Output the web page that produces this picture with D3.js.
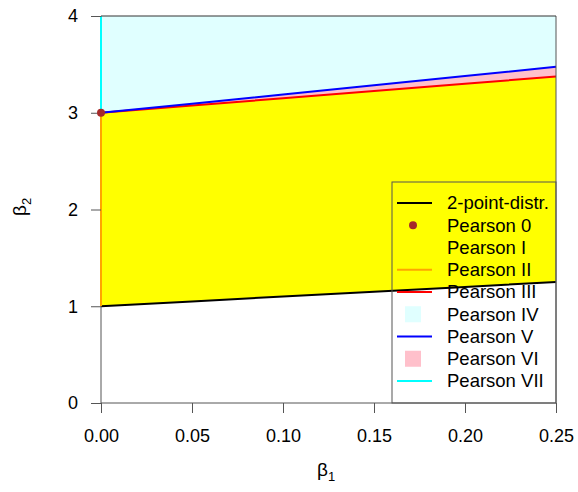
<!DOCTYPE html>
<html>
<head>
<meta charset="utf-8">
<script src="https://cdn.jsdelivr.net/npm/d3@7"></script>
<style>
  body { margin: 0; background: #fff; }
  text { font-family: "Liberation Sans", Arial, sans-serif; }
</style>
</head>
<body>
<div id="chart"></div>
<script>
// beta1 grid and boundary curves
const beta1 = [0, 0.05, 0.10, 0.15, 0.20, 0.25];
const twoPoint = [1.00, 1.05, 1.10, 1.15, 1.20, 1.25];      // lower bound
const typeIII = [3.00, 3.075, 3.15, 3.225, 3.30, 3.375];     // red line
const typeV = [3.00, 3.094, 3.189, 3.283, 3.379, 3.475];     // blue line
const yTop = 4;
const xTicks = [0, 0.05, 0.10, 0.15, 0.20, 0.25];
const yTicks = [0, 1, 2, 3, 4];

const legendNames = ['2-point-distr.', 'Pearson 0', 'Pearson I', 'Pearson II', 'Pearson III',
  'Pearson IV', 'Pearson V', 'Pearson VI', 'Pearson VII'];

const W = 578, H = 492;
const pLeft = 101, pRight = 556, pTop = 16, pBottom = 403;

const x = d3.scaleLinear().domain([0, 0.25]).range([pLeft, pRight]);
const y = d3.scaleLinear().domain([0, 4]).range([pBottom, pTop]);

const svg = d3.select('#chart').append('svg')
  .attr('width', W).attr('height', H);

const pts = (arr) => beta1.map((b, i) => [b, arr[i]]);

// band between two curves
const band = d3.area()
  .x(d => x(d[0]))
  .y0(d => y(d[1]))
  .y1(d => y(d[2]));
const line = d3.line().x(d => x(d[0])).y(d => y(d[1]));

// Pearson I (yellow)
svg.append('path')
  .datum(beta1.map((b, i) => [b, twoPoint[i], typeIII[i]]))
  .attr('d', band).attr('fill', '#ffff00');
// Pearson VI (pink)
svg.append('path')
  .datum(beta1.map((b, i) => [b, typeIII[i], typeV[i]]))
  .attr('d', band).attr('fill', '#ffc0cb');
// Pearson IV (light cyan)
svg.append('path')
  .datum(beta1.map((b, i) => [b, typeV[i], yTop]))
  .attr('d', band).attr('fill', '#e0ffff');

// boundary lines
svg.append('path').datum(pts(twoPoint)).attr('d', line)
  .attr('fill', 'none').attr('stroke', '#000').attr('stroke-width', 2);
svg.append('path').datum(pts(typeIII)).attr('d', line)
  .attr('fill', 'none').attr('stroke', '#ff0000').attr('stroke-width', 2);
svg.append('path').datum(pts(typeV)).attr('d', line)
  .attr('fill', 'none').attr('stroke', '#0000ff').attr('stroke-width', 2);

// Pearson II: orange vertical at beta1 = 0
svg.append('line')
  .attr('x1', x(0)).attr('x2', x(0))
  .attr('y1', y(twoPoint[0])).attr('y2', y(typeIII[0]))
  .attr('stroke', '#ffa500').attr('stroke-width', 2);
// Pearson VII: cyan vertical
svg.append('line')
  .attr('x1', x(0)).attr('x2', x(0))
  .attr('y1', y(typeIII[0])).attr('y2', y(yTop))
  .attr('stroke', '#00ffff').attr('stroke-width', 2);

// axes
const axisColor = '#555';
const xAxis = svg.append('g')
  .attr('transform', `translate(0,${pBottom})`)
  .call(d3.axisBottom(x).tickValues(xTicks).tickFormat(d3.format('.2f')).tickSize(10).tickPadding(16));
const yAxis = svg.append('g')
  .attr('transform', `translate(${pLeft},0)`)
  .call(d3.axisLeft(y).tickValues(yTicks).tickFormat(d3.format('d')).tickSize(10).tickPadding(13));
[xAxis, yAxis].forEach(g => {
  g.select('.domain').remove();
  g.selectAll('line').attr('stroke', axisColor);
  g.selectAll('text').attr('font-size', 18).attr('fill', '#000')
    .style('font-family', '"Liberation Sans", Arial, sans-serif');
});
xAxis.selectAll('text').attr('dy', '0.71em');

// frame
svg.append('line').attr('x1', pLeft).attr('x2', pRight).attr('y1', pBottom).attr('y2', pBottom)
  .attr('stroke', axisColor);
svg.append('line').attr('x1', pLeft).attr('x2', pLeft).attr('y1', y(twoPoint[0])).attr('y2', pBottom)
  .attr('stroke', axisColor);
svg.append('line').attr('x1', pRight).attr('x2', pRight).attr('y1', pTop).attr('y2', pBottom)
  .attr('stroke', axisColor);
svg.append('line').attr('x1', pLeft).attr('x2', pRight).attr('y1', pTop).attr('y2', pTop)
  .attr('stroke', '#333');

// Pearson 0 (normal) point
svg.append('circle')
  .attr('cx', x(0)).attr('cy', y(3)).attr('r', 4)
  .attr('fill', '#a52a2a');

// axis titles
const xt = svg.append('text').attr('x', 317).attr('y', 476).attr('font-size', 19);
xt.append('tspan').text('β');
xt.append('tspan').attr('font-size', 13).attr('dy', 5).text('1');

const yt = svg.append('text')
  .attr('transform', 'translate(26,216) rotate(-90)')
  .attr('font-size', 19);
yt.append('tspan').text('β');
yt.append('tspan').attr('font-size', 13).attr('dy', 5).text('2');

// legend
const lg = svg.append('g');
lg.append('rect')
  .attr('x', 392).attr('y', 182).attr('width', pRight - 392).attr('height', pBottom - 182)
  .attr('fill', 'none').attr('stroke', axisColor);

const rowY = i => 203 + i * 22.25;
const symX0 = 397, symX1 = 432, textX = 447;
const lineSym = { 0: '#000', 3: '#ffa500', 4: '#ff0000', 6: '#0000ff', 8: '#00ffff' };
const boxSym = { 5: '#e0ffff', 7: '#ffc0cb' };

legendNames.forEach((name, i) => {
  if (lineSym[i]) {
    lg.append('line')
      .attr('x1', symX0).attr('x2', symX1).attr('y1', rowY(i)).attr('y2', rowY(i))
      .attr('stroke', lineSym[i]).attr('stroke-width', 2);
  }
  if (boxSym[i]) {
    lg.append('rect')
      .attr('x', 405).attr('y', rowY(i) - 8).attr('width', 16).attr('height', 16)
      .attr('fill', boxSym[i]);
  }
  if (i === 1) {
    lg.append('circle').attr('cx', 413).attr('cy', rowY(i)).attr('r', 4).attr('fill', '#a52a2a');
  }
  lg.append('text')
    .attr('x', textX).attr('y', rowY(i)).attr('dy', '0.35em')
    .attr('font-size', 18.5).attr('fill', '#000')
    .text(name);
});
</script>
</body>
</html>
